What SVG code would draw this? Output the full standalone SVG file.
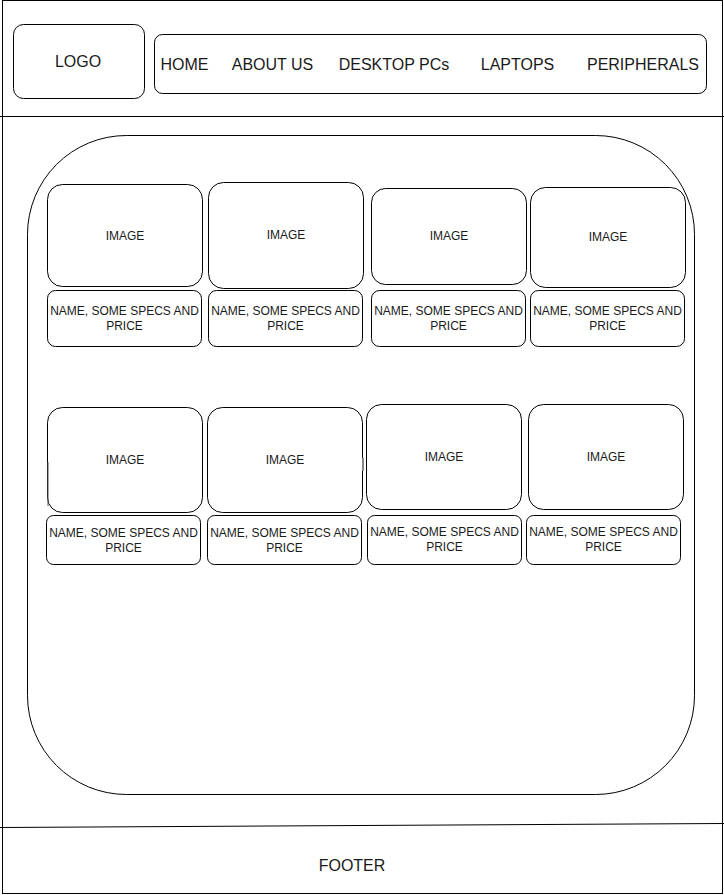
<svg xmlns="http://www.w3.org/2000/svg" width="724" height="895" viewBox="0 0 724 895">
  <style>
    .box { fill: #ffffff; stroke: #000000; stroke-width: 1; }
    .line { fill: none; stroke: #000000; stroke-width: 1; }
    .lbl { font-family: "Liberation Sans", Arial, sans-serif; fill: #1a1a1a; text-anchor: middle; }
    .big { font-size: 16px; }
    .small { font-size: 12px; }
  </style>

  <rect width="724" height="895" fill="#ffffff"/>

  <!-- page frame -->
  <g id="page">
    <rect class="box" x="2.5" y="0.5" width="720" height="893"/>
  </g>

  <!-- section dividers -->
  <g id="connectors">
    <line class="line" x1="0" y1="116.5" x2="724" y2="116.5"/>
    <line class="line" x1="0" y1="827.5" x2="724" y2="823.5"/>
  </g>

  <!-- header -->
  <g id="logo">
    <rect class="box" x="13.5" y="24.5" width="131" height="74" rx="10"/>
    <text class="lbl big" x="78" y="67">LOGO</text>
  </g>
  <g id="nav">
    <rect class="box" x="154.5" y="34.5" width="552" height="59" rx="8"/>
    <text class="lbl big" x="184.5" y="70">HOME</text>
    <text class="lbl big" x="272.5" y="70">ABOUT US</text>
    <text class="lbl big" x="394" y="70">DESKTOP PCs</text>
    <text class="lbl big" x="517.5" y="70">LAPTOPS</text>
    <text class="lbl big" x="643" y="70">PERIPHERALS</text>
  </g>

  <!-- product area -->
  <g id="content">
    <rect class="box" x="27.5" y="135.5" width="667" height="659" rx="99"/>
  </g>

  <!-- row 1 -->
  <g id="card1">
    <rect class="box" x="47.5" y="184.5" width="155" height="102" rx="15"/>
    <text class="lbl small" x="125" y="240">IMAGE</text>
    <rect class="box" x="47.5" y="290.5" width="154" height="56" rx="8"/>
    <text class="lbl small" x="124.5" y="315">NAME, SOME SPECS AND</text>
    <text class="lbl small" x="124.5" y="330">PRICE</text>
  </g>
  <g id="card2">
    <rect class="box" x="208.5" y="182.5" width="155" height="106" rx="15"/>
    <text class="lbl small" x="286" y="239">IMAGE</text>
    <rect class="box" x="208.5" y="290.5" width="154" height="56" rx="8"/>
    <text class="lbl small" x="285.5" y="315">NAME, SOME SPECS AND</text>
    <text class="lbl small" x="285.5" y="330">PRICE</text>
  </g>
  <g id="card3">
    <rect class="box" x="371.5" y="188.5" width="155" height="96" rx="14"/>
    <text class="lbl small" x="449" y="240">IMAGE</text>
    <rect class="box" x="371.5" y="290.5" width="154" height="56" rx="8"/>
    <text class="lbl small" x="448.5" y="315">NAME, SOME SPECS AND</text>
    <text class="lbl small" x="448.5" y="330">PRICE</text>
  </g>
  <g id="card4">
    <rect class="box" x="530.5" y="187.5" width="155" height="100" rx="15"/>
    <text class="lbl small" x="608" y="241">IMAGE</text>
    <rect class="box" x="530.5" y="290.5" width="154" height="56" rx="8"/>
    <text class="lbl small" x="607.5" y="315">NAME, SOME SPECS AND</text>
    <text class="lbl small" x="607.5" y="330">PRICE</text>
  </g>

  <!-- row 2 -->
  <g id="card5">
    <rect class="box" x="47.5" y="407.5" width="155" height="105" rx="15"/>
    <line x1="48" y1="462" x2="48" y2="506" stroke="#555555" stroke-width="1"/>
    <text class="lbl small" x="125" y="464">IMAGE</text>
    <rect class="box" x="46.5" y="515.5" width="154" height="49" rx="7"/>
    <text class="lbl small" x="123.5" y="537">NAME, SOME SPECS AND</text>
    <text class="lbl small" x="123.5" y="552">PRICE</text>
  </g>
  <g id="card6">
    <rect class="box" x="207.5" y="407.5" width="155" height="105" rx="15"/>
    <rect x="362" y="458" width="2" height="13" fill="#888888"/>
    <text class="lbl small" x="285" y="464">IMAGE</text>
    <rect class="box" x="207.5" y="515.5" width="154" height="49" rx="7"/>
    <text class="lbl small" x="284.5" y="537">NAME, SOME SPECS AND</text>
    <text class="lbl small" x="284.5" y="552">PRICE</text>
  </g>
  <g id="card7">
    <rect class="box" x="366.5" y="404.5" width="155" height="105" rx="15"/>
    <text class="lbl small" x="444" y="461">IMAGE</text>
    <rect class="box" x="367.5" y="515.5" width="154" height="49" rx="7"/>
    <text class="lbl small" x="444.5" y="536">NAME, SOME SPECS AND</text>
    <text class="lbl small" x="444.5" y="551">PRICE</text>
  </g>
  <g id="card8">
    <rect class="box" x="528.5" y="404.5" width="155" height="105" rx="15"/>
    <text class="lbl small" x="606" y="461">IMAGE</text>
    <rect class="box" x="526.5" y="515.5" width="154" height="49" rx="7"/>
    <text class="lbl small" x="603.5" y="536">NAME, SOME SPECS AND</text>
    <text class="lbl small" x="603.5" y="551">PRICE</text>
  </g>

  <!-- footer -->
  <g id="footer">
    <text class="lbl big" x="352" y="871">FOOTER</text>
  </g>
</svg>
